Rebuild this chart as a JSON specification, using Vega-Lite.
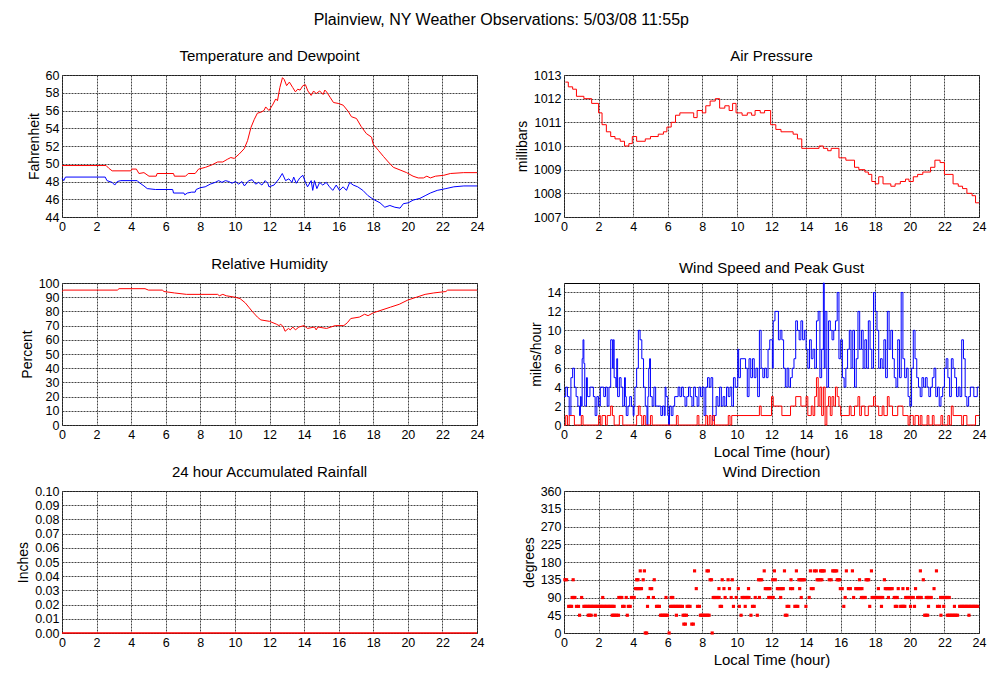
{
"$schema": "https://vega.github.io/schema/vega-lite/v6.json",
"background": "white",
"padding": {"left": 16, "top": 11, "right": 5, "bottom": 5},
"title": {"text": "Plainview, NY Weather Observations: 5/03/08 11:55p", "fontSize": 16, "anchor": "middle", "offset": 21},
"columns": 2,
"bounds": "flush",
"spacing": {"row": 66, "column": 87},
"resolve": {"scale": {"color": "independent"}},
"datasets": {
"temp": [
{"h":0,"v":49.8,"s":"Temperature"},{"h":2.55,"v":49.8,"s":"Temperature"},{"h":2.7,"v":49.5,"s":"Temperature"},{"h":2.9,"v":49.2,"s":"Temperature"},{"h":3.97,"v":49.2,"s":"Temperature"},{"h":4.05,"v":49.4,"s":"Temperature"},{"h":4.3,"v":49.4,"s":"Temperature"},{"h":4.45,"v":48.9,"s":"Temperature"},{"h":4.74,"v":49.0,"s":"Temperature"},{"h":5.03,"v":48.6,"s":"Temperature"},{"h":5.45,"v":48.6,"s":"Temperature"},{"h":5.5,"v":48.9,"s":"Temperature"},{"h":6.45,"v":48.9,"s":"Temperature"},{"h":6.5,"v":48.6,"s":"Temperature"},{"h":7.15,"v":48.6,"s":"Temperature"},{"h":7.3,"v":48.9,"s":"Temperature"},{"h":7.7,"v":48.9,"s":"Temperature"},{"h":7.9,"v":49.4,"s":"Temperature"},{"h":8.3,"v":49.6,"s":"Temperature"},{"h":8.7,"v":49.9,"s":"Temperature"},{"h":9.0,"v":50.2,"s":"Temperature"},{"h":9.3,"v":50.2,"s":"Temperature"},{"h":9.56,"v":50.5,"s":"Temperature"},{"h":9.76,"v":50.7,"s":"Temperature"},{"h":9.96,"v":50.6,"s":"Temperature"},{"h":10.25,"v":51.1,"s":"Temperature"},{"h":10.54,"v":51.7,"s":"Temperature"},{"h":10.73,"v":52.6,"s":"Temperature"},{"h":10.93,"v":54.1,"s":"Temperature"},{"h":11.12,"v":55.0,"s":"Temperature"},{"h":11.3,"v":55.7,"s":"Temperature"},{"h":11.5,"v":55.8,"s":"Temperature"},{"h":11.68,"v":56.0,"s":"Temperature"},{"h":11.78,"v":56.4,"s":"Temperature"},{"h":11.97,"v":56.0,"s":"Temperature"},{"h":12.17,"v":56.6,"s":"Temperature"},{"h":12.36,"v":57.3,"s":"Temperature"},{"h":12.46,"v":57.1,"s":"Temperature"},{"h":12.6,"v":58.6,"s":"Temperature"},{"h":12.75,"v":59.7,"s":"Temperature"},{"h":12.85,"v":59.5,"s":"Temperature"},{"h":12.99,"v":58.8,"s":"Temperature"},{"h":13.15,"v":59.2,"s":"Temperature"},{"h":13.34,"v":58.6,"s":"Temperature"},{"h":13.5,"v":58.1,"s":"Temperature"},{"h":13.63,"v":58.4,"s":"Temperature"},{"h":13.77,"v":58.3,"s":"Temperature"},{"h":13.93,"v":58.8,"s":"Temperature"},{"h":14.08,"v":58.9,"s":"Temperature"},{"h":14.22,"v":58.2,"s":"Temperature"},{"h":14.41,"v":57.7,"s":"Temperature"},{"h":14.55,"v":58.2,"s":"Temperature"},{"h":14.7,"v":57.9,"s":"Temperature"},{"h":14.9,"v":58.2,"s":"Temperature"},{"h":15.1,"v":57.8,"s":"Temperature"},{"h":15.2,"v":58.3,"s":"Temperature"},{"h":15.3,"v":58.1,"s":"Temperature"},{"h":15.5,"v":57.5,"s":"Temperature"},{"h":15.7,"v":56.9,"s":"Temperature"},{"h":15.97,"v":56.8,"s":"Temperature"},{"h":16.26,"v":56.6,"s":"Temperature"},{"h":16.55,"v":55.9,"s":"Temperature"},{"h":16.74,"v":55.3,"s":"Temperature"},{"h":17.03,"v":55.1,"s":"Temperature"},{"h":17.3,"v":54.2,"s":"Temperature"},{"h":17.6,"v":53.4,"s":"Temperature"},{"h":17.9,"v":53.0,"s":"Temperature"},{"h":18.0,"v":52.2,"s":"Temperature"},{"h":18.3,"v":51.5,"s":"Temperature"},{"h":18.6,"v":50.8,"s":"Temperature"},{"h":18.87,"v":50.2,"s":"Temperature"},{"h":19.16,"v":49.6,"s":"Temperature"},{"h":19.55,"v":49.3,"s":"Temperature"},{"h":19.93,"v":49.0,"s":"Temperature"},{"h":20.3,"v":48.6,"s":"Temperature"},{"h":20.6,"v":48.4,"s":"Temperature"},{"h":20.9,"v":48.4,"s":"Temperature"},{"h":21.1,"v":48.6,"s":"Temperature"},{"h":21.3,"v":48.4,"s":"Temperature"},{"h":21.6,"v":48.6,"s":"Temperature"},{"h":22.08,"v":48.7,"s":"Temperature"},{"h":22.46,"v":48.9,"s":"Temperature"},{"h":23.23,"v":49.0,"s":"Temperature"},{"h":24,"v":49.0,"s":"Temperature"},
{"h":0,"v":48.4,"s":"Dewpoint"},{"h":0.1,"v":48.1,"s":"Dewpoint"},{"h":0.2,"v":48.5,"s":"Dewpoint"},{"h":2.5,"v":48.5,"s":"Dewpoint"},{"h":2.6,"v":48.1,"s":"Dewpoint"},{"h":2.9,"v":47.9,"s":"Dewpoint"},{"h":3.05,"v":47.6,"s":"Dewpoint"},{"h":3.2,"v":48.0,"s":"Dewpoint"},{"h":3.4,"v":48.1,"s":"Dewpoint"},{"h":4.35,"v":48.1,"s":"Dewpoint"},{"h":4.45,"v":47.9,"s":"Dewpoint"},{"h":4.74,"v":47.5,"s":"Dewpoint"},{"h":4.93,"v":47.2,"s":"Dewpoint"},{"h":5.4,"v":47.1,"s":"Dewpoint"},{"h":6.4,"v":47.1,"s":"Dewpoint"},{"h":6.45,"v":46.7,"s":"Dewpoint"},{"h":7.05,"v":46.7,"s":"Dewpoint"},{"h":7.1,"v":46.5,"s":"Dewpoint"},{"h":7.25,"v":46.7,"s":"Dewpoint"},{"h":7.5,"v":46.8,"s":"Dewpoint"},{"h":7.7,"v":46.8,"s":"Dewpoint"},{"h":7.76,"v":47.1,"s":"Dewpoint"},{"h":8.0,"v":47.3,"s":"Dewpoint"},{"h":8.28,"v":47.4,"s":"Dewpoint"},{"h":8.57,"v":47.7,"s":"Dewpoint"},{"h":8.86,"v":47.9,"s":"Dewpoint"},{"h":9.06,"v":48.1,"s":"Dewpoint"},{"h":9.25,"v":47.9,"s":"Dewpoint"},{"h":9.45,"v":48.1,"s":"Dewpoint"},{"h":9.64,"v":48.0,"s":"Dewpoint"},{"h":9.83,"v":47.8,"s":"Dewpoint"},{"h":10.03,"v":48.0,"s":"Dewpoint"},{"h":10.22,"v":47.7,"s":"Dewpoint"},{"h":10.4,"v":48.0,"s":"Dewpoint"},{"h":10.55,"v":47.5,"s":"Dewpoint"},{"h":10.8,"v":48.1,"s":"Dewpoint"},{"h":11.0,"v":48.2,"s":"Dewpoint"},{"h":11.2,"v":47.7,"s":"Dewpoint"},{"h":11.37,"v":47.9,"s":"Dewpoint"},{"h":11.56,"v":47.6,"s":"Dewpoint"},{"h":11.75,"v":48.1,"s":"Dewpoint"},{"h":11.9,"v":47.8,"s":"Dewpoint"},{"h":11.97,"v":47.4,"s":"Dewpoint"},{"h":12.26,"v":47.6,"s":"Dewpoint"},{"h":12.55,"v":48.3,"s":"Dewpoint"},{"h":12.74,"v":48.9,"s":"Dewpoint"},{"h":12.93,"v":48.1,"s":"Dewpoint"},{"h":13.12,"v":48.3,"s":"Dewpoint"},{"h":13.3,"v":47.9,"s":"Dewpoint"},{"h":13.4,"v":48.5,"s":"Dewpoint"},{"h":13.55,"v":47.8,"s":"Dewpoint"},{"h":13.75,"v":48.4,"s":"Dewpoint"},{"h":13.93,"v":48.7,"s":"Dewpoint"},{"h":14.08,"v":47.9,"s":"Dewpoint"},{"h":14.2,"v":47.4,"s":"Dewpoint"},{"h":14.41,"v":48.1,"s":"Dewpoint"},{"h":14.5,"v":47.0,"s":"Dewpoint"},{"h":14.6,"v":48.1,"s":"Dewpoint"},{"h":14.74,"v":47.2,"s":"Dewpoint"},{"h":14.9,"v":47.9,"s":"Dewpoint"},{"h":15.08,"v":47.6,"s":"Dewpoint"},{"h":15.28,"v":47.9,"s":"Dewpoint"},{"h":15.47,"v":47.4,"s":"Dewpoint"},{"h":15.66,"v":47.0,"s":"Dewpoint"},{"h":15.86,"v":47.6,"s":"Dewpoint"},{"h":16.05,"v":47.0,"s":"Dewpoint"},{"h":16.26,"v":47.4,"s":"Dewpoint"},{"h":16.45,"v":47.0,"s":"Dewpoint"},{"h":16.64,"v":47.9,"s":"Dewpoint"},{"h":16.84,"v":47.6,"s":"Dewpoint"},{"h":17.1,"v":47.4,"s":"Dewpoint"},{"h":17.4,"v":47.0,"s":"Dewpoint"},{"h":17.7,"v":46.4,"s":"Dewpoint"},{"h":18.0,"v":46.0,"s":"Dewpoint"},{"h":18.39,"v":45.6,"s":"Dewpoint"},{"h":18.67,"v":45.1,"s":"Dewpoint"},{"h":18.96,"v":45.3,"s":"Dewpoint"},{"h":19.25,"v":45.1,"s":"Dewpoint"},{"h":19.55,"v":45.0,"s":"Dewpoint"},{"h":19.74,"v":45.5,"s":"Dewpoint"},{"h":20.03,"v":45.6,"s":"Dewpoint"},{"h":20.3,"v":45.9,"s":"Dewpoint"},{"h":20.7,"v":46.1,"s":"Dewpoint"},{"h":21.0,"v":46.4,"s":"Dewpoint"},{"h":21.3,"v":46.7,"s":"Dewpoint"},{"h":21.7,"v":47.0,"s":"Dewpoint"},{"h":22.2,"v":47.2,"s":"Dewpoint"},{"h":22.66,"v":47.4,"s":"Dewpoint"},{"h":23.24,"v":47.5,"s":"Dewpoint"},{"h":24,"v":47.5,"s":"Dewpoint"}
],
"pressure": [
{"h":0.08,"v":1012.7},{"h":0.25,"v":1012.5},{"h":0.5,"v":1012.4},{"h":0.72,"v":1012.1},{"h":1.15,"v":1012.0},{"h":1.6,"v":1011.8},{"h":2.0,"v":1011.4},{"h":2.2,"v":1010.9},{"h":2.45,"v":1010.6},{"h":2.7,"v":1010.4},{"h":2.95,"v":1010.3},{"h":3.25,"v":1010.2},{"h":3.5,"v":1010.0},{"h":3.75,"v":1010.1},{"h":3.95,"v":1010.4},{"h":4.2,"v":1010.2},{"h":4.7,"v":1010.3},{"h":5.0,"v":1010.4},{"h":5.45,"v":1010.5},{"h":5.75,"v":1010.6},{"h":5.95,"v":1010.8},{"h":6.2,"v":1011.0},{"h":6.45,"v":1011.3},{"h":6.7,"v":1011.4},{"h":7.5,"v":1011.2},{"h":7.7,"v":1011.5},{"h":8.0,"v":1011.4},{"h":8.2,"v":1011.7},{"h":8.45,"v":1011.9},{"h":8.75,"v":1012.0},{"h":9.0,"v":1011.6},{"h":9.3,"v":1011.7},{"h":9.55,"v":1011.5},{"h":9.75,"v":1011.8},{"h":9.95,"v":1011.4},{"h":10.3,"v":1011.3},{"h":10.6,"v":1011.4},{"h":10.85,"v":1011.3},{"h":11.05,"v":1011.5},{"h":11.35,"v":1011.4},{"h":11.6,"v":1011.5},{"h":11.95,"v":1010.9},{"h":12.25,"v":1010.7},{"h":12.55,"v":1010.6},{"h":13.25,"v":1010.5},{"h":13.5,"v":1010.3},{"h":13.75,"v":1009.9},{"h":14.75,"v":1010.0},{"h":15.0,"v":1009.9},{"h":15.25,"v":1009.8},{"h":15.45,"v":1009.9},{"h":15.9,"v":1009.5},{"h":16.3,"v":1009.4},{"h":16.8,"v":1009.1},{"h":17.05,"v":1009.0},{"h":17.4,"v":1008.9},{"h":17.6,"v":1008.8},{"h":17.8,"v":1008.5},{"h":18.0,"v":1008.4},{"h":18.2,"v":1008.7},{"h":18.45,"v":1008.4},{"h":18.9,"v":1008.3},{"h":19.15,"v":1008.4},{"h":19.45,"v":1008.5},{"h":19.75,"v":1008.6},{"h":19.95,"v":1008.5},{"h":20.2,"v":1008.7},{"h":20.45,"v":1008.8},{"h":20.75,"v":1008.9},{"h":21.2,"v":1009.1},{"h":21.45,"v":1009.4},{"h":21.75,"v":1009.3},{"h":22.0,"v":1008.8},{"h":22.5,"v":1008.4},{"h":22.8,"v":1008.3},{"h":23.05,"v":1008.2},{"h":23.3,"v":1008.0},{"h":23.6,"v":1007.9},{"h":23.8,"v":1007.6},{"h":24.0,"v":1007.6}
],
"humidity": [
{"h":0,"v":94},{"h":0.1,"v":95},{"h":3.2,"v":95},{"h":3.3,"v":96},{"h":4.8,"v":96},{"h":5.0,"v":95},{"h":5.8,"v":95},{"h":5.9,"v":94},{"h":6.5,"v":93},{"h":7.2,"v":92},{"h":9.0,"v":92},{"h":9.1,"v":91},{"h":9.3,"v":92},{"h":9.5,"v":91},{"h":10.0,"v":90},{"h":10.3,"v":89},{"h":10.6,"v":86},{"h":10.8,"v":83},{"h":11.0,"v":80},{"h":11.3,"v":76},{"h":11.5,"v":74},{"h":12.0,"v":73},{"h":12.4,"v":71},{"h":12.55,"v":70},{"h":12.65,"v":71},{"h":12.8,"v":69},{"h":12.9,"v":66},{"h":13.1,"v":68},{"h":13.2,"v":67},{"h":13.35,"v":69},{"h":13.5,"v":67},{"h":13.7,"v":69},{"h":14.0,"v":70},{"h":14.2,"v":68},{"h":14.6,"v":69},{"h":14.7,"v":67},{"h":14.8,"v":69},{"h":15.3,"v":68},{"h":15.8,"v":70},{"h":16.3,"v":70},{"h":16.5,"v":72},{"h":16.7,"v":75},{"h":17.2,"v":76},{"h":17.5,"v":78},{"h":17.7,"v":77},{"h":18.0,"v":79},{"h":18.5,"v":81},{"h":19.0,"v":83},{"h":19.5,"v":85},{"h":20.0,"v":88},{"h":20.5,"v":90},{"h":21.0,"v":92},{"h":21.5,"v":93},{"h":22.2,"v":94},{"h":22.3,"v":95},{"h":24,"v":95}
],
"wind": [
{"h":0.0,"v":3,"s":"Peak Gust"},{"h":0.1,"v":4,"s":"Peak Gust"},{"h":0.2,"v":3,"s":"Peak Gust"},{"h":0.3,"v":1,"s":"Peak Gust"},{"h":0.4,"v":5,"s":"Peak Gust"},{"h":0.5,"v":6,"s":"Peak Gust"},{"h":0.6,"v":4,"s":"Peak Gust"},{"h":0.7,"v":3,"s":"Peak Gust"},{"h":0.8,"v":2,"s":"Peak Gust"},{"h":0.9,"v":1,"s":"Peak Gust"},{"h":0.95,"v":3,"s":"Peak Gust"},{"h":1.0,"v":2,"s":"Peak Gust"},{"h":1.05,"v":7,"s":"Peak Gust"},{"h":1.1,"v":9,"s":"Peak Gust"},{"h":1.15,"v":6.5,"s":"Peak Gust"},{"h":1.2,"v":2,"s":"Peak Gust"},{"h":1.3,"v":5,"s":"Peak Gust"},{"h":1.35,"v":3,"s":"Peak Gust"},{"h":1.5,"v":4,"s":"Peak Gust"},{"h":1.7,"v":3,"s":"Peak Gust"},{"h":1.8,"v":1,"s":"Peak Gust"},{"h":1.9,"v":3,"s":"Peak Gust"},{"h":2.0,"v":2,"s":"Peak Gust"},{"h":2.1,"v":4,"s":"Peak Gust"},{"h":2.3,"v":3,"s":"Peak Gust"},{"h":2.4,"v":4,"s":"Peak Gust"},{"h":2.5,"v":2,"s":"Peak Gust"},{"h":2.6,"v":4,"s":"Peak Gust"},{"h":2.7,"v":9,"s":"Peak Gust"},{"h":2.8,"v":6,"s":"Peak Gust"},{"h":2.85,"v":9,"s":"Peak Gust"},{"h":2.9,"v":5,"s":"Peak Gust"},{"h":3.0,"v":4,"s":"Peak Gust"},{"h":3.05,"v":7,"s":"Peak Gust"},{"h":3.1,"v":3,"s":"Peak Gust"},{"h":3.2,"v":5,"s":"Peak Gust"},{"h":3.3,"v":4,"s":"Peak Gust"},{"h":3.4,"v":2,"s":"Peak Gust"},{"h":3.5,"v":5,"s":"Peak Gust"},{"h":3.55,"v":3,"s":"Peak Gust"},{"h":3.6,"v":1,"s":"Peak Gust"},{"h":3.7,"v":2,"s":"Peak Gust"},{"h":3.8,"v":3,"s":"Peak Gust"},{"h":3.9,"v":2,"s":"Peak Gust"},{"h":4.0,"v":1,"s":"Peak Gust"},{"h":4.05,"v":2,"s":"Peak Gust"},{"h":4.1,"v":4,"s":"Peak Gust"},{"h":4.2,"v":6,"s":"Peak Gust"},{"h":4.3,"v":10,"s":"Peak Gust"},{"h":4.4,"v":9,"s":"Peak Gust"},{"h":4.5,"v":7,"s":"Peak Gust"},{"h":4.6,"v":4,"s":"Peak Gust"},{"h":4.7,"v":2,"s":"Peak Gust"},{"h":4.8,"v":0,"s":"Peak Gust"},{"h":4.85,"v":3,"s":"Peak Gust"},{"h":4.9,"v":6,"s":"Peak Gust"},{"h":4.95,"v":7,"s":"Peak Gust"},{"h":5.0,"v":3,"s":"Peak Gust"},{"h":5.1,"v":2,"s":"Peak Gust"},{"h":5.2,"v":4,"s":"Peak Gust"},{"h":5.3,"v":2,"s":"Peak Gust"},{"h":5.6,"v":1,"s":"Peak Gust"},{"h":5.7,"v":2,"s":"Peak Gust"},{"h":5.8,"v":1,"s":"Peak Gust"},{"h":5.85,"v":4,"s":"Peak Gust"},{"h":5.9,"v":3,"s":"Peak Gust"},{"h":6.0,"v":1,"s":"Peak Gust"},{"h":6.05,"v":0,"s":"Peak Gust"},{"h":6.1,"v":2,"s":"Peak Gust"},{"h":6.2,"v":1,"s":"Peak Gust"},{"h":6.3,"v":2,"s":"Peak Gust"},{"h":6.4,"v":3,"s":"Peak Gust"},{"h":6.6,"v":4,"s":"Peak Gust"},{"h":6.7,"v":3,"s":"Peak Gust"},{"h":6.8,"v":4,"s":"Peak Gust"},{"h":6.9,"v":3,"s":"Peak Gust"},{"h":7.0,"v":2,"s":"Peak Gust"},{"h":7.1,"v":3,"s":"Peak Gust"},{"h":7.2,"v":4,"s":"Peak Gust"},{"h":7.3,"v":3,"s":"Peak Gust"},{"h":7.4,"v":2,"s":"Peak Gust"},{"h":7.5,"v":4,"s":"Peak Gust"},{"h":7.6,"v":3,"s":"Peak Gust"},{"h":7.7,"v":2,"s":"Peak Gust"},{"h":7.8,"v":4,"s":"Peak Gust"},{"h":7.9,"v":3,"s":"Peak Gust"},{"h":8.0,"v":4,"s":"Peak Gust"},{"h":8.1,"v":1,"s":"Peak Gust"},{"h":8.2,"v":4,"s":"Peak Gust"},{"h":8.3,"v":5,"s":"Peak Gust"},{"h":8.4,"v":4,"s":"Peak Gust"},{"h":8.5,"v":5,"s":"Peak Gust"},{"h":8.6,"v":0.5,"s":"Peak Gust"},{"h":8.7,"v":1,"s":"Peak Gust"},{"h":8.8,"v":3,"s":"Peak Gust"},{"h":8.9,"v":2,"s":"Peak Gust"},{"h":9.0,"v":4,"s":"Peak Gust"},{"h":9.1,"v":2,"s":"Peak Gust"},{"h":9.2,"v":3,"s":"Peak Gust"},{"h":9.3,"v":2,"s":"Peak Gust"},{"h":9.4,"v":4,"s":"Peak Gust"},{"h":9.5,"v":3,"s":"Peak Gust"},{"h":9.6,"v":4,"s":"Peak Gust"},{"h":9.7,"v":2,"s":"Peak Gust"},{"h":9.8,"v":5,"s":"Peak Gust"},{"h":9.9,"v":4,"s":"Peak Gust"},{"h":10.05,"v":8,"s":"Peak Gust"},{"h":10.1,"v":5,"s":"Peak Gust"},{"h":10.2,"v":7,"s":"Peak Gust"},{"h":10.5,"v":6,"s":"Peak Gust"},{"h":10.6,"v":3,"s":"Peak Gust"},{"h":10.7,"v":7,"s":"Peak Gust"},{"h":10.8,"v":5,"s":"Peak Gust"},{"h":10.9,"v":7,"s":"Peak Gust"},{"h":11.0,"v":5,"s":"Peak Gust"},{"h":11.1,"v":6,"s":"Peak Gust"},{"h":11.2,"v":3,"s":"Peak Gust"},{"h":11.3,"v":10,"s":"Peak Gust"},{"h":11.4,"v":6,"s":"Peak Gust"},{"h":11.5,"v":5,"s":"Peak Gust"},{"h":11.6,"v":6,"s":"Peak Gust"},{"h":11.7,"v":5,"s":"Peak Gust"},{"h":11.8,"v":8,"s":"Peak Gust"},{"h":11.9,"v":9,"s":"Peak Gust"},{"h":12.05,"v":6,"s":"Peak Gust"},{"h":12.1,"v":11,"s":"Peak Gust"},{"h":12.2,"v":12,"s":"Peak Gust"},{"h":12.4,"v":9,"s":"Peak Gust"},{"h":12.5,"v":10,"s":"Peak Gust"},{"h":12.6,"v":9,"s":"Peak Gust"},{"h":12.7,"v":6,"s":"Peak Gust"},{"h":12.8,"v":4,"s":"Peak Gust"},{"h":12.9,"v":6,"s":"Peak Gust"},{"h":13.0,"v":4,"s":"Peak Gust"},{"h":13.1,"v":5,"s":"Peak Gust"},{"h":13.2,"v":6,"s":"Peak Gust"},{"h":13.3,"v":7,"s":"Peak Gust"},{"h":13.4,"v":11,"s":"Peak Gust"},{"h":13.5,"v":10,"s":"Peak Gust"},{"h":13.6,"v":9,"s":"Peak Gust"},{"h":13.7,"v":11,"s":"Peak Gust"},{"h":13.8,"v":9,"s":"Peak Gust"},{"h":13.9,"v":10,"s":"Peak Gust"},{"h":14.0,"v":8,"s":"Peak Gust"},{"h":14.1,"v":6,"s":"Peak Gust"},{"h":14.2,"v":9,"s":"Peak Gust"},{"h":14.3,"v":7,"s":"Peak Gust"},{"h":14.4,"v":8,"s":"Peak Gust"},{"h":14.5,"v":6,"s":"Peak Gust"},{"h":14.6,"v":11,"s":"Peak Gust"},{"h":14.7,"v":12,"s":"Peak Gust"},{"h":14.8,"v":5,"s":"Peak Gust"},{"h":14.9,"v":8,"s":"Peak Gust"},{"h":15.0,"v":15,"s":"Peak Gust"},{"h":15.05,"v":6,"s":"Peak Gust"},{"h":15.1,"v":12,"s":"Peak Gust"},{"h":15.2,"v":4,"s":"Peak Gust"},{"h":15.3,"v":11,"s":"Peak Gust"},{"h":15.4,"v":10,"s":"Peak Gust"},{"h":15.5,"v":9,"s":"Peak Gust"},{"h":15.6,"v":10,"s":"Peak Gust"},{"h":15.7,"v":11,"s":"Peak Gust"},{"h":15.8,"v":14,"s":"Peak Gust"},{"h":15.9,"v":7,"s":"Peak Gust"},{"h":16.0,"v":9,"s":"Peak Gust"},{"h":16.1,"v":5,"s":"Peak Gust"},{"h":16.2,"v":4,"s":"Peak Gust"},{"h":16.3,"v":6,"s":"Peak Gust"},{"h":16.4,"v":8,"s":"Peak Gust"},{"h":16.5,"v":10,"s":"Peak Gust"},{"h":16.6,"v":6,"s":"Peak Gust"},{"h":16.7,"v":10,"s":"Peak Gust"},{"h":16.8,"v":4,"s":"Peak Gust"},{"h":16.9,"v":7,"s":"Peak Gust"},{"h":17.0,"v":12,"s":"Peak Gust"},{"h":17.1,"v":8,"s":"Peak Gust"},{"h":17.2,"v":10,"s":"Peak Gust"},{"h":17.3,"v":6,"s":"Peak Gust"},{"h":17.4,"v":9,"s":"Peak Gust"},{"h":17.5,"v":6,"s":"Peak Gust"},{"h":17.6,"v":11,"s":"Peak Gust"},{"h":17.7,"v":8,"s":"Peak Gust"},{"h":17.8,"v":6,"s":"Peak Gust"},{"h":17.9,"v":14,"s":"Peak Gust"},{"h":18.0,"v":12,"s":"Peak Gust"},{"h":18.1,"v":10,"s":"Peak Gust"},{"h":18.2,"v":6,"s":"Peak Gust"},{"h":18.3,"v":7,"s":"Peak Gust"},{"h":18.4,"v":6,"s":"Peak Gust"},{"h":18.5,"v":9,"s":"Peak Gust"},{"h":18.6,"v":5,"s":"Peak Gust"},{"h":18.7,"v":12,"s":"Peak Gust"},{"h":18.8,"v":8,"s":"Peak Gust"},{"h":18.9,"v":10,"s":"Peak Gust"},{"h":19.0,"v":7,"s":"Peak Gust"},{"h":19.1,"v":5,"s":"Peak Gust"},{"h":19.2,"v":4,"s":"Peak Gust"},{"h":19.3,"v":9,"s":"Peak Gust"},{"h":19.4,"v":5,"s":"Peak Gust"},{"h":19.5,"v":14,"s":"Peak Gust"},{"h":19.6,"v":7,"s":"Peak Gust"},{"h":19.7,"v":5,"s":"Peak Gust"},{"h":19.8,"v":6,"s":"Peak Gust"},{"h":19.9,"v":3,"s":"Peak Gust"},{"h":20.0,"v":2,"s":"Peak Gust"},{"h":20.1,"v":6,"s":"Peak Gust"},{"h":20.2,"v":10,"s":"Peak Gust"},{"h":20.3,"v":7,"s":"Peak Gust"},{"h":20.4,"v":5,"s":"Peak Gust"},{"h":20.5,"v":4,"s":"Peak Gust"},{"h":20.6,"v":3,"s":"Peak Gust"},{"h":20.7,"v":5,"s":"Peak Gust"},{"h":20.8,"v":4,"s":"Peak Gust"},{"h":20.9,"v":5,"s":"Peak Gust"},{"h":21.0,"v":4,"s":"Peak Gust"},{"h":21.1,"v":3,"s":"Peak Gust"},{"h":21.2,"v":4,"s":"Peak Gust"},{"h":21.3,"v":5,"s":"Peak Gust"},{"h":21.4,"v":6,"s":"Peak Gust"},{"h":21.5,"v":3,"s":"Peak Gust"},{"h":21.6,"v":4,"s":"Peak Gust"},{"h":21.7,"v":2,"s":"Peak Gust"},{"h":21.8,"v":3,"s":"Peak Gust"},{"h":21.9,"v":4,"s":"Peak Gust"},{"h":22.0,"v":6,"s":"Peak Gust"},{"h":22.1,"v":7,"s":"Peak Gust"},{"h":22.2,"v":5,"s":"Peak Gust"},{"h":22.3,"v":3,"s":"Peak Gust"},{"h":22.4,"v":7,"s":"Peak Gust"},{"h":22.5,"v":6,"s":"Peak Gust"},{"h":22.6,"v":5,"s":"Peak Gust"},{"h":22.7,"v":3,"s":"Peak Gust"},{"h":22.8,"v":4,"s":"Peak Gust"},{"h":22.9,"v":3,"s":"Peak Gust"},{"h":23.0,"v":9,"s":"Peak Gust"},{"h":23.1,"v":7,"s":"Peak Gust"},{"h":23.2,"v":3,"s":"Peak Gust"},{"h":23.3,"v":2,"s":"Peak Gust"},{"h":23.4,"v":3,"s":"Peak Gust"},{"h":23.5,"v":4,"s":"Peak Gust"},{"h":23.7,"v":3,"s":"Peak Gust"},{"h":23.9,"v":4,"s":"Peak Gust"},{"h":24.0,"v":4,"s":"Peak Gust"},
{"h":0,"v":0,"s":"Wind Speed"},{"h":0.1,"v":1,"s":"Wind Speed"},{"h":0.2,"v":0,"s":"Wind Speed"},{"h":0.3,"v":1,"s":"Wind Speed"},{"h":0.6,"v":0,"s":"Wind Speed"},{"h":1.0,"v":1,"s":"Wind Speed"},{"h":1.1,"v":0,"s":"Wind Speed"},{"h":2.0,"v":1,"s":"Wind Speed"},{"h":2.1,"v":0,"s":"Wind Speed"},{"h":2.2,"v":1,"s":"Wind Speed"},{"h":2.4,"v":0,"s":"Wind Speed"},{"h":2.5,"v":1,"s":"Wind Speed"},{"h":2.7,"v":2,"s":"Wind Speed"},{"h":2.8,"v":1,"s":"Wind Speed"},{"h":2.9,"v":0,"s":"Wind Speed"},{"h":3.2,"v":1,"s":"Wind Speed"},{"h":3.4,"v":0,"s":"Wind Speed"},{"h":4.2,"v":1,"s":"Wind Speed"},{"h":4.3,"v":2,"s":"Wind Speed"},{"h":4.4,"v":1,"s":"Wind Speed"},{"h":4.5,"v":0,"s":"Wind Speed"},{"h":4.6,"v":1,"s":"Wind Speed"},{"h":4.7,"v":0,"s":"Wind Speed"},{"h":5.0,"v":1,"s":"Wind Speed"},{"h":5.1,"v":0,"s":"Wind Speed"},{"h":6.5,"v":1,"s":"Wind Speed"},{"h":6.6,"v":0,"s":"Wind Speed"},{"h":7.7,"v":1,"s":"Wind Speed"},{"h":7.8,"v":0,"s":"Wind Speed"},{"h":8.2,"v":1,"s":"Wind Speed"},{"h":8.3,"v":0,"s":"Wind Speed"},{"h":8.4,"v":1,"s":"Wind Speed"},{"h":8.5,"v":0,"s":"Wind Speed"},{"h":8.6,"v":1,"s":"Wind Speed"},{"h":8.7,"v":0,"s":"Wind Speed"},{"h":9.5,"v":1,"s":"Wind Speed"},{"h":9.6,"v":0,"s":"Wind Speed"},{"h":9.7,"v":1,"s":"Wind Speed"},{"h":11.3,"v":2,"s":"Wind Speed"},{"h":11.4,"v":1,"s":"Wind Speed"},{"h":12.0,"v":3,"s":"Wind Speed"},{"h":12.1,"v":2,"s":"Wind Speed"},{"h":12.6,"v":1,"s":"Wind Speed"},{"h":13.1,"v":2,"s":"Wind Speed"},{"h":13.4,"v":3,"s":"Wind Speed"},{"h":13.7,"v":2,"s":"Wind Speed"},{"h":14.0,"v":3,"s":"Wind Speed"},{"h":14.1,"v":1,"s":"Wind Speed"},{"h":14.3,"v":2,"s":"Wind Speed"},{"h":14.4,"v":1,"s":"Wind Speed"},{"h":14.5,"v":3,"s":"Wind Speed"},{"h":14.6,"v":5,"s":"Wind Speed"},{"h":14.7,"v":2,"s":"Wind Speed"},{"h":14.8,"v":4,"s":"Wind Speed"},{"h":14.9,"v":1,"s":"Wind Speed"},{"h":15.0,"v":4,"s":"Wind Speed"},{"h":15.1,"v":0,"s":"Wind Speed"},{"h":15.2,"v":2,"s":"Wind Speed"},{"h":15.3,"v":3,"s":"Wind Speed"},{"h":15.4,"v":1,"s":"Wind Speed"},{"h":15.5,"v":3,"s":"Wind Speed"},{"h":15.6,"v":2,"s":"Wind Speed"},{"h":15.7,"v":4,"s":"Wind Speed"},{"h":15.8,"v":3,"s":"Wind Speed"},{"h":15.9,"v":2,"s":"Wind Speed"},{"h":16.0,"v":1,"s":"Wind Speed"},{"h":16.5,"v":2,"s":"Wind Speed"},{"h":16.6,"v":1,"s":"Wind Speed"},{"h":16.8,"v":2,"s":"Wind Speed"},{"h":17.0,"v":3,"s":"Wind Speed"},{"h":17.1,"v":1,"s":"Wind Speed"},{"h":17.2,"v":2,"s":"Wind Speed"},{"h":17.4,"v":1,"s":"Wind Speed"},{"h":17.6,"v":2,"s":"Wind Speed"},{"h":17.9,"v":3,"s":"Wind Speed"},{"h":18.0,"v":2,"s":"Wind Speed"},{"h":18.2,"v":1,"s":"Wind Speed"},{"h":18.4,"v":2,"s":"Wind Speed"},{"h":18.5,"v":1,"s":"Wind Speed"},{"h":18.7,"v":3,"s":"Wind Speed"},{"h":18.8,"v":2,"s":"Wind Speed"},{"h":19.0,"v":1,"s":"Wind Speed"},{"h":19.3,"v":2,"s":"Wind Speed"},{"h":19.6,"v":1,"s":"Wind Speed"},{"h":19.9,"v":0,"s":"Wind Speed"},{"h":20.0,"v":1,"s":"Wind Speed"},{"h":20.2,"v":0,"s":"Wind Speed"},{"h":20.3,"v":1,"s":"Wind Speed"},{"h":20.5,"v":0,"s":"Wind Speed"},{"h":20.6,"v":1,"s":"Wind Speed"},{"h":20.7,"v":0,"s":"Wind Speed"},{"h":21.0,"v":1,"s":"Wind Speed"},{"h":21.1,"v":0,"s":"Wind Speed"},{"h":21.3,"v":1,"s":"Wind Speed"},{"h":21.4,"v":0,"s":"Wind Speed"},{"h":21.8,"v":1,"s":"Wind Speed"},{"h":21.9,"v":0,"s":"Wind Speed"},{"h":22.2,"v":1,"s":"Wind Speed"},{"h":22.3,"v":0,"s":"Wind Speed"},{"h":22.4,"v":2,"s":"Wind Speed"},{"h":22.5,"v":1,"s":"Wind Speed"},{"h":23.0,"v":0,"s":"Wind Speed"},{"h":23.1,"v":1,"s":"Wind Speed"},{"h":23.3,"v":0,"s":"Wind Speed"},{"h":23.8,"v":1,"s":"Wind Speed"},{"h":24.0,"v":1,"s":"Wind Speed"}
],
"rain": [
{"h":0,"v":0},{"h":6,"v":0},{"h":12,"v":0},{"h":18,"v":0},{"h":24,"v":0}
],
"direction": [
{"h":0.05,"d":135},{"h":0.15,"d":135},{"h":0.53,"d":135},{"h":4.2,"d":135},{"h":4.28,"d":135},{"h":4.58,"d":135},{"h":5.22,"d":135},{"h":8.45,"d":135},{"h":8.53,"d":135},{"h":9.15,"d":135},{"h":9.49,"d":135},{"h":9.73,"d":135},{"h":11.25,"d":135},{"h":11.34,"d":135},{"h":11.43,"d":135},{"h":12.07,"d":135},{"h":12.22,"d":135},{"h":13.13,"d":135},{"h":13.58,"d":135},{"h":13.66,"d":135},{"h":13.74,"d":135},{"h":13.82,"d":135},{"h":13.9,"d":135},{"h":14.64,"d":135},{"h":14.73,"d":135},{"h":14.82,"d":135},{"h":14.91,"d":135},{"h":15.34,"d":135},{"h":15.45,"d":135},{"h":15.8,"d":135},{"h":15.87,"d":135},{"h":15.94,"d":135},{"h":17.09,"d":135},{"h":17.47,"d":135},{"h":17.55,"d":135},{"h":17.62,"d":135},{"h":18.53,"d":135},{"h":20.78,"d":135},
{"h":4.41,"d":157.5},{"h":4.65,"d":157.5},{"h":7.55,"d":157.5},{"h":8.27,"d":157.5},{"h":8.35,"d":157.5},{"h":11.58,"d":157.5},{"h":12.17,"d":157.5},{"h":12.75,"d":157.5},{"h":13.44,"d":157.5},{"h":14.25,"d":157.5},{"h":14.48,"d":157.5},{"h":14.59,"d":157.5},{"h":14.84,"d":157.5},{"h":14.91,"d":157.5},{"h":14.98,"d":157.5},{"h":15.05,"d":157.5},{"h":15.54,"d":157.5},{"h":15.61,"d":157.5},{"h":15.69,"d":157.5},{"h":15.77,"d":157.5},{"h":16.33,"d":157.5},{"h":16.68,"d":157.5},{"h":17.78,"d":157.5},{"h":20.61,"d":157.5},{"h":21.54,"d":157.5},
{"h":4.14,"d":112.5},{"h":4.22,"d":112.5},{"h":4.31,"d":112.5},{"h":4.4,"d":112.5},{"h":4.48,"d":112.5},{"h":4.98,"d":112.5},{"h":5.07,"d":112.5},{"h":7.65,"d":112.5},{"h":8.96,"d":112.5},{"h":9.25,"d":112.5},{"h":9.57,"d":112.5},{"h":10.08,"d":112.5},{"h":10.67,"d":112.5},{"h":11.64,"d":112.5},{"h":11.73,"d":112.5},{"h":11.82,"d":112.5},{"h":11.91,"d":112.5},{"h":12.34,"d":112.5},{"h":12.42,"d":112.5},{"h":12.51,"d":112.5},{"h":12.6,"d":112.5},{"h":12.68,"d":112.5},{"h":13.1,"d":112.5},{"h":13.22,"d":112.5},{"h":13.63,"d":112.5},{"h":14.3,"d":112.5},{"h":14.41,"d":112.5},{"h":15.98,"d":112.5},{"h":16.09,"d":112.5},{"h":16.45,"d":112.5},{"h":16.56,"d":112.5},{"h":16.87,"d":112.5},{"h":16.95,"d":112.5},{"h":17.04,"d":112.5},{"h":17.13,"d":112.5},{"h":17.23,"d":112.5},{"h":18.18,"d":112.5},{"h":18.58,"d":112.5},{"h":18.66,"d":112.5},{"h":18.74,"d":112.5},{"h":18.82,"d":112.5},{"h":18.9,"d":112.5},{"h":18.98,"d":112.5},{"h":19.33,"d":112.5},{"h":19.6,"d":112.5},{"h":19.87,"d":112.5},{"h":20.33,"d":112.5},{"h":21.4,"d":112.5},
{"h":0.47,"d":90},{"h":0.55,"d":90},{"h":0.63,"d":90},{"h":1.02,"d":90},{"h":2.24,"d":90},{"h":3.17,"d":90},{"h":3.25,"d":90},{"h":3.34,"d":90},{"h":3.6,"d":90},{"h":3.9,"d":90},{"h":3.98,"d":90},{"h":4.06,"d":90},{"h":4.88,"d":90},{"h":5.17,"d":90},{"h":5.9,"d":90},{"h":6.2,"d":90},{"h":6.29,"d":90},{"h":8.63,"d":90},{"h":8.71,"d":90},{"h":8.8,"d":90},{"h":8.89,"d":90},{"h":8.97,"d":90},{"h":9.32,"d":90},{"h":9.67,"d":90},{"h":9.96,"d":90},{"h":10.3,"d":90},{"h":10.38,"d":90},{"h":10.46,"d":90},{"h":10.54,"d":90},{"h":10.62,"d":90},{"h":10.7,"d":90},{"h":11.06,"d":90},{"h":11.3,"d":90},{"h":11.84,"d":90},{"h":11.93,"d":90},{"h":12.02,"d":90},{"h":12.1,"d":90},{"h":12.53,"d":90},{"h":13.72,"d":90},{"h":14.18,"d":90},{"h":16.26,"d":90},{"h":16.75,"d":90},{"h":17.2,"d":90},{"h":17.28,"d":90},{"h":17.35,"d":90},{"h":17.42,"d":90},{"h":17.82,"d":90},{"h":17.91,"d":90},{"h":18.0,"d":90},{"h":18.08,"d":90},{"h":18.17,"d":90},{"h":18.26,"d":90},{"h":18.34,"d":90},{"h":18.43,"d":90},{"h":18.76,"d":90},{"h":19.1,"d":90},{"h":19.18,"d":90},{"h":19.27,"d":90},{"h":19.76,"d":90},{"h":19.84,"d":90},{"h":19.93,"d":90},{"h":20.02,"d":90},{"h":20.11,"d":90},{"h":20.2,"d":90},{"h":20.45,"d":90},{"h":20.52,"d":90},{"h":20.59,"d":90},{"h":20.66,"d":90},{"h":20.95,"d":90},{"h":21.02,"d":90},{"h":21.09,"d":90},{"h":21.17,"d":90},{"h":21.24,"d":90},{"h":21.78,"d":90},{"h":21.86,"d":90},{"h":21.94,"d":90},{"h":22.03,"d":90},{"h":22.11,"d":90},{"h":22.19,"d":90},{"h":22.28,"d":90},
{"h":0.27,"d":67.5},{"h":0.36,"d":67.5},{"h":0.44,"d":67.5},{"h":0.72,"d":67.5},{"h":0.84,"d":67.5},{"h":1.15,"d":67.5},{"h":1.23,"d":67.5},{"h":1.32,"d":67.5},{"h":1.4,"d":67.5},{"h":1.48,"d":67.5},{"h":1.57,"d":67.5},{"h":1.65,"d":67.5},{"h":1.73,"d":67.5},{"h":1.82,"d":67.5},{"h":1.9,"d":67.5},{"h":1.98,"d":67.5},{"h":2.07,"d":67.5},{"h":2.15,"d":67.5},{"h":2.23,"d":67.5},{"h":2.32,"d":67.5},{"h":2.4,"d":67.5},{"h":2.48,"d":67.5},{"h":2.57,"d":67.5},{"h":2.65,"d":67.5},{"h":2.73,"d":67.5},{"h":2.82,"d":67.5},{"h":2.9,"d":67.5},{"h":3.39,"d":67.5},{"h":3.48,"d":67.5},{"h":3.72,"d":67.5},{"h":3.83,"d":67.5},{"h":4.83,"d":67.5},{"h":5.35,"d":67.5},{"h":5.43,"d":67.5},{"h":5.52,"d":67.5},{"h":6.16,"d":67.5},{"h":6.24,"d":67.5},{"h":6.33,"d":67.5},{"h":6.41,"d":67.5},{"h":6.5,"d":67.5},{"h":6.58,"d":67.5},{"h":6.67,"d":67.5},{"h":6.75,"d":67.5},{"h":6.85,"d":67.5},{"h":7.12,"d":67.5},{"h":7.2,"d":67.5},{"h":7.29,"d":67.5},{"h":7.72,"d":67.5},{"h":7.83,"d":67.5},{"h":9.03,"d":67.5},{"h":9.11,"d":67.5},{"h":9.8,"d":67.5},{"h":10.14,"d":67.5},{"h":10.48,"d":67.5},{"h":10.9,"d":67.5},{"h":11.0,"d":67.5},{"h":12.9,"d":67.5},{"h":13.0,"d":67.5},{"h":13.35,"d":67.5},{"h":13.43,"d":67.5},{"h":13.52,"d":67.5},{"h":13.99,"d":67.5},{"h":16.18,"d":67.5},{"h":17.68,"d":67.5},{"h":18.36,"d":67.5},{"h":19.16,"d":67.5},{"h":19.25,"d":67.5},{"h":19.47,"d":67.5},{"h":19.55,"d":67.5},{"h":19.63,"d":67.5},{"h":19.71,"d":67.5},{"h":20.04,"d":67.5},{"h":20.27,"d":67.5},{"h":21.08,"d":67.5},{"h":21.6,"d":67.5},{"h":21.72,"d":67.5},{"h":21.96,"d":67.5},{"h":22.58,"d":67.5},{"h":22.88,"d":67.5},{"h":22.96,"d":67.5},{"h":23.04,"d":67.5},{"h":23.12,"d":67.5},{"h":23.2,"d":67.5},{"h":23.28,"d":67.5},{"h":23.36,"d":67.5},{"h":23.44,"d":67.5},{"h":23.52,"d":67.5},{"h":23.6,"d":67.5},{"h":23.68,"d":67.5},{"h":23.76,"d":67.5},{"h":23.84,"d":67.5},{"h":23.92,"d":67.5},
{"h":0.9,"d":45},{"h":1.4,"d":45},{"h":1.48,"d":45},{"h":1.57,"d":45},{"h":1.81,"d":45},{"h":2.79,"d":45},{"h":2.87,"d":45},{"h":2.96,"d":45},{"h":3.05,"d":45},{"h":3.15,"d":45},{"h":3.66,"d":45},{"h":5.58,"d":45},{"h":5.66,"d":45},{"h":5.74,"d":45},{"h":5.82,"d":45},{"h":5.9,"d":45},{"h":5.98,"d":45},{"h":6.5,"d":45},{"h":6.89,"d":45},{"h":6.98,"d":45},{"h":7.08,"d":45},{"h":7.89,"d":45},{"h":7.97,"d":45},{"h":8.05,"d":45},{"h":8.14,"d":45},{"h":8.22,"d":45},{"h":8.31,"d":45},{"h":8.39,"d":45},{"h":10.24,"d":45},{"h":10.81,"d":45},{"h":11.18,"d":45},{"h":12.8,"d":45},{"h":12.89,"d":45},{"h":20.86,"d":45},{"h":20.94,"d":45},{"h":21.03,"d":45},{"h":21.8,"d":45},{"h":22.17,"d":45},{"h":22.25,"d":45},{"h":22.33,"d":45},{"h":22.42,"d":45},{"h":22.5,"d":45},{"h":22.59,"d":45},{"h":22.67,"d":45},{"h":22.76,"d":45},{"h":23.42,"d":45},
{"h":6.93,"d":22.5},{"h":7.02,"d":22.5},{"h":7.39,"d":22.5},{"h":7.48,"d":22.5},
{"h":4.7,"d":0},{"h":4.78,"d":0},{"h":6.08,"d":0},{"h":8.57,"d":0}
]
},
"concat": [
{
"title": "Temperature and Dewpoint",
"width": 415, "height": 142,
"data": {"name": "temp"},
"mark": {"type": "line", "strokeWidth": 1},
"encoding": {
"x": {"field": "h", "type": "quantitative", "scale": {"domain": [0, 24], "nice": false}, "axis": {"values": [0,2,4,6,8,10,12,14,16,18,20,22,24], "title": null}},
"y": {"field": "v", "type": "quantitative", "scale": {"domain": [44, 60], "nice": false, "zero": false}, "axis": {"values": [44,46,48,50,52,54,56,58,60], "title": "Fahrenheit"}},
"color": {"field": "s", "type": "nominal", "scale": {"domain": ["Temperature", "Dewpoint"], "range": ["#ff0000", "#0000ff"]}, "legend": null}
}
},
{
"title": "Air Pressure",
"width": 415, "height": 142,
"data": {"name": "pressure"},
"mark": {"type": "line", "strokeWidth": 1, "color": "#ff0000", "interpolate": "step-after"},
"encoding": {
"x": {"field": "h", "type": "quantitative", "scale": {"domain": [0, 24], "nice": false}, "axis": {"values": [0,2,4,6,8,10,12,14,16,18,20,22,24], "title": null}},
"y": {"field": "v", "type": "quantitative", "scale": {"domain": [1007, 1013], "nice": false, "zero": false}, "axis": {"values": [1007,1008,1009,1010,1011,1012,1013], "format": "d", "title": "millibars"}}
}
},
{
"title": "Relative Humidity",
"width": 415, "height": 142,
"data": {"name": "humidity"},
"mark": {"type": "line", "strokeWidth": 1, "color": "#ff0000"},
"encoding": {
"x": {"field": "h", "type": "quantitative", "scale": {"domain": [0, 24], "nice": false}, "axis": {"values": [0,2,4,6,8,10,12,14,16,18,20,22,24], "title": null}},
"y": {"field": "v", "type": "quantitative", "scale": {"domain": [0, 100], "nice": false}, "axis": {"values": [0,10,20,30,40,50,60,70,80,90,100], "title": "Percent"}}
}
},
{
"title": "Wind Speed and Peak Gust",
"width": 415, "height": 142,
"data": {"name": "wind"},
"mark": {"type": "line", "strokeWidth": 1, "interpolate": "step-after"},
"encoding": {
"x": {"field": "h", "type": "quantitative", "scale": {"domain": [0, 24], "nice": false}, "axis": {"values": [0,2,4,6,8,10,12,14,16,18,20,22,24], "title": "Local Time (hour)", "titleFontSize": 15}},
"y": {"field": "v", "type": "quantitative", "scale": {"domain": [0, 15], "nice": false}, "axis": {"values": [0,2,4,6,8,10,12,14], "title": "miles/hour"}},
"color": {"field": "s", "type": "nominal", "scale": {"domain": ["Peak Gust", "Wind Speed"], "range": ["#0000ff", "#ff0000"]}, "legend": null}
}
},
{
"title": "24 hour Accumulated Rainfall",
"width": 415, "height": 142,
"data": {"name": "rain"},
"mark": {"type": "line", "strokeWidth": 1.5, "color": "#ff0000"},
"encoding": {
"x": {"field": "h", "type": "quantitative", "scale": {"domain": [0, 24], "nice": false}, "axis": {"values": [0,2,4,6,8,10,12,14,16,18,20,22,24], "title": null}},
"y": {"field": "v", "type": "quantitative", "scale": {"domain": [0, 0.1], "nice": false}, "axis": {"values": [0,0.01,0.02,0.03,0.04,0.05,0.06,0.07,0.08,0.09,0.1], "format": ".2f", "title": "Inches"}}
}
},
{
"title": "Wind Direction",
"width": 415, "height": 142,
"data": {"name": "direction"},
"mark": {"type": "square", "color": "#ff0000", "size": 10, "opacity": 1},
"encoding": {
"x": {"field": "h", "type": "quantitative", "scale": {"domain": [0, 24], "nice": false}, "axis": {"values": [0,2,4,6,8,10,12,14,16,18,20,22,24], "title": "Local Time (hour)", "titleFontSize": 15}},
"y": {"field": "d", "type": "quantitative", "scale": {"domain": [0, 360], "nice": false}, "axis": {"values": [0,45,90,135,180,225,270,315,360], "title": "degrees"}}
}
}
],
"config": {
"font": "Liberation Sans",
"view": {"stroke": "#000000", "strokeWidth": 1},
"axis": {"labelFont": "Liberation Sans", "labelFontSize": 12.5, "labelColor": "#000000", "labelFlush": false, "labelOverlap": false, "titleFont": "Liberation Sans", "titleFontSize": 14, "titleFontWeight": "normal", "titleColor": "#000000", "ticks": false, "domain": false, "grid": true, "gridColor": "#444444", "gridDash": [2, 1], "gridWidth": 1, "gridOpacity": 1, "labelPadding": 3},
"title": {"font": "Liberation Sans", "fontSize": 15, "fontWeight": "normal", "color": "#000000", "offset": 5}
}
}
